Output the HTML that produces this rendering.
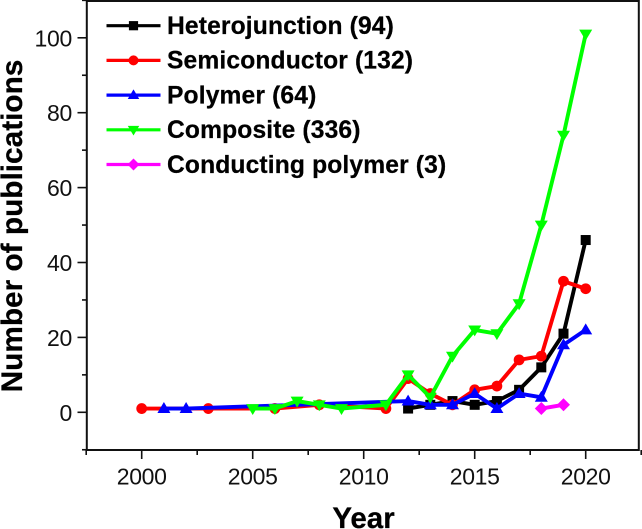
<!DOCTYPE html>
<html>
<head>
<meta charset="utf-8">
<style>
html,body{margin:0;padding:0;background:#fff;}
svg{display:block;font-family:"Liberation Sans",Arial,sans-serif;}
</style>
</head>
<body>
<svg id="chart" xmlns="http://www.w3.org/2000/svg" width="642" height="529" viewBox="0 0 642 529"></svg>
<script>
const xMajorTicks = [2000, 2005, 2010, 2015, 2020];
const xMinorTicks = [1997.5, 2002.5, 2007.5, 2012.5, 2017.5, 2022.5];
const yMajorTicks = [0, 20, 40, 60, 80, 100];
const yMinorTicks = [-10, 10, 30, 50, 70, 90, 110];

const heterojunctionYears = [2012, 2013, 2014, 2015, 2016, 2017, 2018, 2019, 2020];
const heterojunctionValues = [1, 2, 3, 2, 3, 6, 12, 21, 46];
const semiconductorYears = [2000, 2003, 2006, 2008, 2011, 2012, 2013, 2014, 2015, 2016, 2017, 2018, 2019, 2020];
const semiconductorValues = [1, 1, 1, 2, 1, 9, 5, 2, 6, 7, 14, 15, 35, 33];
const polymerYears = [2001, 2002, 2012, 2013, 2014, 2015, 2016, 2017, 2018, 2019, 2020];
const polymerValues = [1, 1, 3, 2, 2, 5, 1, 5, 4, 18, 22];
const compositeYears = [2005, 2006, 2007, 2008, 2009, 2011, 2012, 2013, 2014, 2015, 2016, 2017, 2018, 2019, 2020];
const compositeValues = [1, 1, 3, 2, 1, 2, 10, 4, 15, 22, 21, 29, 50, 74, 101];
const conductingYears = [2018, 2019];
const conductingValues = [1, 2];

const seriesNames = ["Heterojunction (94)", "Semiconductor (132)", "Polymer (64)", "Composite (336)", "Conducting polymer (3)"];

const NS = "http://www.w3.org/2000/svg";
const svg = document.getElementById("chart");
const xScale = v => 141.7 + (v - 2000) * 22.2;
const yScale = v => 412.3 - v * 3.745;

function make(tag, attrs, parent) {
  const el = document.createElementNS(NS, tag);
  for (const k in attrs) el.setAttribute(k, attrs[k]);
  (parent || svg).appendChild(el);
  return el;
}

function drawMarker(kind, cx, cy, s, color, parent) {
  let m;
  if (kind === "square") {
    m = make("rect", {x: cx - s, y: cy - s, width: 2 * s, height: 2 * s, fill: color}, parent);
  } else if (kind === "circle") {
    m = make("circle", {cx: cx, cy: cy, r: s * 1.08, fill: color}, parent);
  } else if (kind === "up") {
    m = make("polygon", {points: [cx, cy - s * 1.25, cx + s * 1.25, cy + s * 0.85, cx - s * 1.25, cy + s * 0.85].join(" "), fill: color}, parent);
  } else if (kind === "down") {
    m = make("polygon", {points: [cx, cy + s * 1.25, cx + s * 1.25, cy - s * 0.85, cx - s * 1.25, cy - s * 0.85].join(" "), fill: color}, parent);
  } else {
    m = make("polygon", {points: [cx, cy - s * 1.3, cx + s * 1.3, cy, cx, cy + s * 1.3, cx - s * 1.3, cy].join(" "), fill: color}, parent);
  }
  
  
}

const axisColor = "#111";
const frame = make("rect", {x: 86.8, y: 1, width: 552, height: 449, fill: "none", stroke: axisColor, "stroke-width": 2});



xMajorTicks.forEach(v => {
  const t = make("line", {x1: xScale(v), x2: xScale(v), y1: 450, y2: 459, stroke: axisColor, "stroke-width": 1.6});
  
  
  const l = make("text", {x: xScale(v), y: 484.5, "text-anchor": "middle", "font-size": 23, "letter-spacing": -0.3, fill: "#111"});
  
  
  l.textContent = v;
});
xMinorTicks.forEach(v => {
  const t = make("line", {x1: xScale(v), x2: xScale(v), y1: 450, y2: 455, stroke: axisColor, "stroke-width": 1.6});
  
  
});
yMajorTicks.forEach(v => {
  const t = make("line", {x1: 77.5, x2: 86.8, y1: yScale(v), y2: yScale(v), stroke: axisColor, "stroke-width": 1.6});
  
  
  const l = make("text", {x: 72, y: yScale(v) + 8.5, "text-anchor": "end", "font-size": 23, "letter-spacing": -0.3, fill: "#111"});
  
  
  l.textContent = v;
});
yMinorTicks.forEach(v => {
  const t = make("line", {x1: 82, x2: 86.8, y1: yScale(v), y2: yScale(v), stroke: axisColor, "stroke-width": 1.6});
  
  
});

function drawSeries(name, years, values, color, kind, size) {
  const g = make("g", {});
  
  
  const pts = years.map((y, i) => xScale(y) + "," + yScale(values[i])).join(" ");
  const line = make("polyline", {points: pts, fill: "none", stroke: color, "stroke-width": 3.9, "stroke-linejoin": "round"}, g);
  
  
  years.forEach((y, i) => drawMarker(kind, xScale(y), yScale(values[i]), size, color, g));
}

const colors = ["#000000", "#ff0000", "#0000ff", "#00ff00", "#ff00ff"];
const kinds = ["square", "circle", "up", "down", "diamond"];
drawSeries("heterojunction-series", heterojunctionYears, heterojunctionValues, colors[0], kinds[0], 5);
drawSeries("semiconductor-series", semiconductorYears, semiconductorValues, colors[1], kinds[1], 5);
drawSeries("polymer-series", polymerYears, polymerValues, colors[2], kinds[2], 5.2);
drawSeries("composite-series", compositeYears, compositeValues, colors[3], kinds[3], 5.2);
drawSeries("conducting-polymer-series", conductingYears, conductingValues, colors[4], kinds[4], 5);

const legend = make("g", {});


seriesNames.forEach((name, i) => {
  const ly = 25.7 + i * 34.7;
  const entry = make("g", {}, legend);
  
  
  make("line", {x1: 106.5, x2: 160.5, y1: ly, y2: ly, stroke: colors[i], "stroke-width": 3.2}, entry);
  drawMarker(kinds[i], 133.5, ly, 4.6, colors[i], entry);
  const t = make("text", {x: 167, y: ly + 8.3, "font-size": 24.6, "font-weight": "bold", "letter-spacing": 0.15, stroke: "#000", "stroke-width": 0.25, fill: "#000"}, entry);
  t.textContent = name;
});

const yTitle = make("text", {transform: "translate(22,226) rotate(-90)", "text-anchor": "middle", "font-size": 29.8, "font-weight": "bold", stroke: "#000", "stroke-width": 0.25, fill: "#000"});


yTitle.textContent = "Number of publications";

const xTitle = make("text", {x: 363.5, y: 528, "text-anchor": "middle", "font-size": 29.5, "font-weight": "bold", stroke: "#000", "stroke-width": 0.25, fill: "#000"});


xTitle.textContent = "Year";
</script>
</body>
</html>
